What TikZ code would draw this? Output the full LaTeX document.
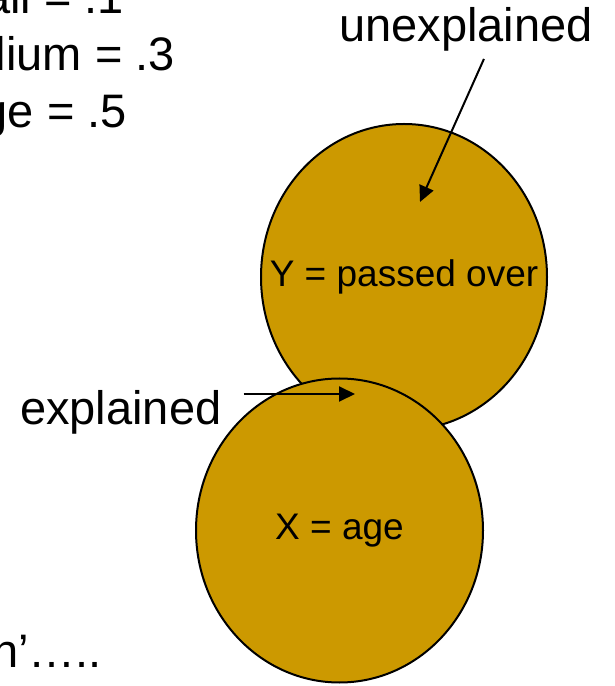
\documentclass[tikz,border=0pt]{standalone}
\usepackage{fontspec}
\setmainfont{Liberation Sans}
\usetikzlibrary{arrows.meta,calc,positioning,shapes.geometric}
\definecolor{gold}{HTML}{CC9900}
\tikzset{varcircle/.style={ellipse,draw=black,fill=gold,line width=2pt,inner sep=0pt}, varname/.style={inner sep=0pt,font=\fontsize{37}{44}\selectfont}, bignote/.style={inner sep=0pt,font=\fontsize{47}{56}\selectfont}, pointer/.style={line width=2pt,-{Triangle[length=16pt,width=15pt]}}}

\begin{document}
\begin{tikzpicture}[x=1pt,y=1pt]
\useasboundingbox (0,0) rectangle (614,686);
\node[bignote,anchor=base east] (small) at (124,672) {all = .1};
\node[bignote,anchor=base east] (medium) at (175,615) {lium = .3};
\node[bignote,anchor=base east] (large) at (127,558) {ge = .5};
\node[bignote,anchor=base east] (tail) at (102,18) {n’…..};
\node[varcircle,minimum width=286,minimum height=306] (Y) at (404,409) {};
\node[varname] (Ytext) at (Y.center) {Y = passed over};
\node[varcircle,minimum width=287,minimum height=304] (X) at (339.5,155.5) {};
\node[varname] (Xtext) at (X.center) {X = age};
\node[bignote,anchor=base west] (unexpl) at (339,644) {unexplained};
\node[bignote,anchor=base west] (expl) at (20,261) {explained};
\coordinate (unexplTip) at (420,484);
\coordinate (explTip) at (355,292);
\draw[pointer] ($(unexpl.south)+(18,-7)$) -- (unexplTip);
\draw[pointer] ($(expl.east |- explTip)+(22,0)$) -- (explTip);
\end{tikzpicture}
\end{document}
